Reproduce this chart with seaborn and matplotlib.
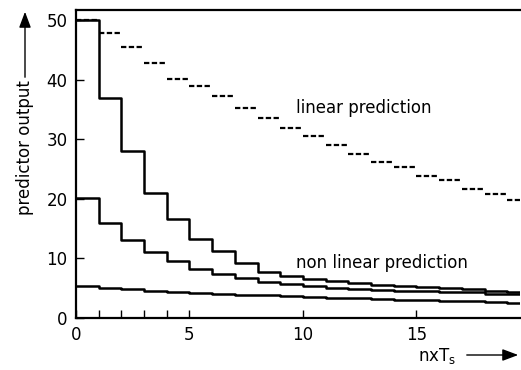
import numpy as np
import pandas as pd
import matplotlib
matplotlib.use("Agg")
import matplotlib.pyplot as plt
import seaborn as sns

n = list(range(20))
nonlinear_50 = [50, 37, 28, 21, 16.7, 13.3, 11.2, 9.3, 7.7, 7.0, 6.6, 6.2, 5.9, 5.6, 5.4, 5.2, 5.0, 4.8, 4.5, 4.3]
nonlinear_20 = [20.1, 16.0, 13.1, 11.1, 9.6, 8.3, 7.4, 6.7, 6.1, 5.7, 5.4, 5.1, 4.9, 4.7, 4.6, 4.5, 4.4, 4.3, 4.1, 4.0]
nonlinear_5 = [5.3, 5.0, 4.8, 4.6, 4.4, 4.2, 4.0, 3.9, 3.8, 3.7, 3.5, 3.4, 3.3, 3.2, 3.1, 3.0, 2.9, 2.8, 2.7, 2.6]
linear = [50, 47.8, 45.5, 42.8, 40.2, 39.0, 37.2, 35.2, 33.6, 31.9, 30.5, 29.1, 27.6, 26.2, 25.3, 23.9, 23.1, 21.7, 20.8, 19.8]

x_major = [0, 5, 10, 15]
x_minor = [1, 2, 3, 4]
y_ticks = [0, 10, 20, 30, 40, 50]

sns.set_style("ticks")
plt.rcParams['font.family'] = ['DejaVu Sans']
plt.rcParams['text.color'] = 'black'
plt.rcParams['xtick.color'] = 'black'
plt.rcParams['ytick.color'] = 'black'
plt.rcParams['xtick.labelcolor'] = 'black'
plt.rcParams['ytick.labelcolor'] = 'black'

fig = plt.figure(figsize=(5.21, 3.70), dpi=100)
ax = fig.add_axes([76/521, 1-318/370, (520-76)/521, (318-10)/370])

rows = []
for name, vals in [("a", nonlinear_50), ("b", nonlinear_20), ("c", nonlinear_5)]:
    for i, v in zip(n + [n[-1] + 1], vals + [vals[-1]]):
        rows.append({"n": i, "v": v, "curve": name})
df = pd.DataFrame(rows)

for name in ["a", "b", "c"]:
    sns.lineplot(data=df[df.curve == name], x="n", y="v", ax=ax, color="black",
                 lw=1.8, drawstyle="steps-post", estimator=None, legend=False)

ax.hlines(linear, [i for i in n], [i + 1 for i in n], colors="black",
          linestyles=(0, (2.4, 1.1)), lw=1.6)

ax.set_xlim(0, 19.56)
ax.set_ylim(0, 51.7)
ax.set_xticks(x_major)
ax.set_xticks(x_minor, minor=True)
ax.set_yticks(y_ticks)
ax.tick_params(axis='both', direction='in', length=6, width=1, labelsize=12,
               color='black', labelcolor='black', pad=6)
ax.tick_params(axis='x', which='minor', direction='in', length=6, width=1)
ax.tick_params(axis='y', which='minor', left=False)
for s in ['left', 'bottom', 'top']:
    ax.spines[s].set_linewidth(1.6)
    ax.spines[s].set_color('black')
ax.spines['right'].set_visible(False)
ax.set_xlabel("")
ax.set_ylabel("")

ax.text(9.7, 35.3, "linear prediction", fontsize=12, va='center', ha='left', color='black')
ax.text(9.7, 9.3, "non linear prediction", fontsize=12, va='center', ha='left', color='black')

# axis labels with arrows
fig.text(418/521, 1-356/370, r"nxT$_{\mathregular{s}}$", fontsize=12, ha='left', va='center', color='black')
fig.add_artist(matplotlib.patches.FancyArrowPatch((464/521, 1-355/370), (521/521, 1-355/370),
               transform=fig.transFigure, arrowstyle='-|>,head_length=0.8,head_width=0.3',
               color='black', lw=1, mutation_scale=12))
fig.text(25/521, 1-148/370, "predictor output", fontsize=12, rotation=90, ha='center', va='center', color='black')
fig.add_artist(matplotlib.patches.FancyArrowPatch((25/521, 1-80/370), (25/521, 1-9/370),
               transform=fig.transFigure, arrowstyle='-|>,head_length=0.8,head_width=0.3',
               color='black', lw=1, mutation_scale=12))

fig.savefig("out.png", dpi=100, facecolor='white')
